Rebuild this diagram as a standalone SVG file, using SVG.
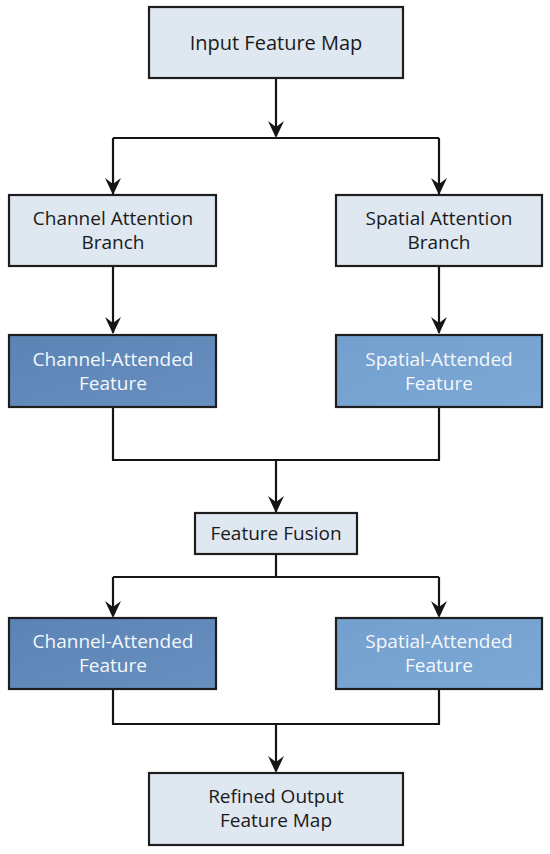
<svg xmlns="http://www.w3.org/2000/svg" width="550" height="854" viewBox="0 0 550 854">
<defs>
<style>
.light{fill:#dfe7f1;stroke:#1e1e1e;stroke-width:2.2}
.ch{fill:url(#gch);stroke:#1e1e1e;stroke-width:2.2}
.sp{fill:url(#gsp);stroke:#1e1e1e;stroke-width:2.2}
text{font-family:"Open Sans","Noto Sans","Liberation Sans",sans-serif;font-size:19px;text-anchor:middle}
.big{font-size:20px}
.dk{fill:#1a1a1a}
.wt{fill:#f4f7fb}
.ln{fill:none;stroke:#151515;stroke-width:2.2}
</style>
<linearGradient id="gch" x1="0" y1="0" x2="1" y2="1">
<stop offset="0" stop-color="#5b83b4"/><stop offset="1" stop-color="#6790c0"/>
</linearGradient>
<linearGradient id="gsp" x1="0" y1="0" x2="1" y2="1">
<stop offset="0" stop-color="#74a0cf"/><stop offset="1" stop-color="#7ba8d5"/>
</linearGradient>
</defs>
<g id="connectors">
<path class="ln" d="M276,78 V136"/>
<path class="ln" d="M113,138 H439"/>
<path class="ln" d="M113,138 V194"/>
<path class="ln" d="M439,138 V194"/>
<path class="ln" d="M113,266 V333"/>
<path class="ln" d="M439,266 V333"/>
<path class="ln" d="M113,407 V460 H439 V407"/>
<path class="ln" d="M276,460 V512"/>
<path class="ln" d="M276,554 V577"/>
<path class="ln" d="M113,577 H439"/>
<path class="ln" d="M113,577 V616"/>
<path class="ln" d="M439,577 V616"/>
<path class="ln" d="M113,689 V724 H439 V689"/>
<path class="ln" d="M276,724 V771"/>
<g fill="#151515">
<path d="M268,121 L276,127 L284,121 L276,138 Z"/>
<path d="M105,178 L113,184 L121,178 L113,195 Z"/>
<path d="M431,178 L439,184 L447,178 L439,195 Z"/>
<path d="M105,317 L113,323 L121,317 L113,334 Z"/>
<path d="M431,317 L439,323 L447,317 L439,334 Z"/>
<path d="M268,496 L276,502 L284,496 L276,513 Z"/>
<path d="M105,601 L113,607 L121,601 L113,618 Z"/>
<path d="M431,601 L439,607 L447,601 L439,618 Z"/>
<path d="M268,756 L276,762 L284,756 L276,773 Z"/>
</g>
</g>
<g id="input">
<rect class="light" x="149" y="7" width="254" height="71"/>
<text class="dk big" x="276" y="50">Input Feature Map</text>
</g>
<g id="channel-branch">
<rect class="light" x="9" y="195" width="207" height="71"/>
<text class="dk" x="113" y="225">Channel Attention</text>
<text class="dk" x="113" y="249">Branch</text>
</g>
<g id="spatial-branch">
<rect class="light" x="336" y="195" width="206" height="71"/>
<text class="dk" x="439" y="225">Spatial Attention</text>
<text class="dk" x="439" y="249">Branch</text>
</g>
<g id="channel-attended-1">
<rect class="ch" x="9" y="335" width="207" height="72"/>
<text class="wt" x="113" y="366">Channel-Attended</text>
<text class="wt" x="113" y="390">Feature</text>
</g>
<g id="spatial-attended-1">
<rect class="sp" x="336" y="335" width="206" height="72"/>
<text class="wt" x="439" y="366">Spatial-Attended</text>
<text class="wt" x="439" y="390">Feature</text>
</g>
<g id="fusion">
<rect class="light" x="195" y="513" width="162" height="41"/>
<text class="dk" x="276" y="540">Feature Fusion</text>
</g>
<g id="channel-attended-2">
<rect class="ch" x="9" y="618" width="207" height="71"/>
<text class="wt" x="113" y="648">Channel-Attended</text>
<text class="wt" x="113" y="672">Feature</text>
</g>
<g id="spatial-attended-2">
<rect class="sp" x="336" y="618" width="206" height="71"/>
<text class="wt" x="439" y="648">Spatial-Attended</text>
<text class="wt" x="439" y="672">Feature</text>
</g>
<g id="output">
<rect class="light" x="149" y="773" width="254" height="72"/>
<text class="dk" x="276" y="803">Refined Output</text>
<text class="dk" x="276" y="827">Feature Map</text>
</g>
</svg>
